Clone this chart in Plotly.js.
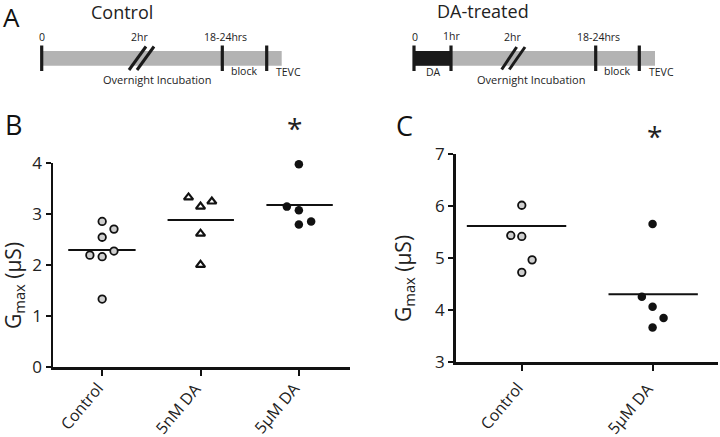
<!DOCTYPE html>
<html>
<head>
<meta charset="utf-8">
<script src="https://cdn.plot.ly/plotly-3.0.1.min.js"></script>
<style>html,body{margin:0;padding:0;background:#fff;}#chart{width:720px;height:437px;}</style>
</head>
<body>
<div id="chart"></div>
<script>
// ---------- Data ----------
const catsB = ["Control", "5nM DA", "5µM DA"];
const bControl = [2.85, 2.70, 2.54, 2.19, 2.16, 2.27, 1.33];
const bControlJit = [0, 0.12, 0, -0.125, 0, 0.12, 0];
const b5nM = [3.32, 3.14, 3.24, 2.61, 2.00];
const b5nMJit = [-0.122, 0, 0.115, 0, 0];
const b5uM = [3.97, 3.14, 3.07, 2.79, 2.85];
const b5uMJit = [0, -0.122, 0, 0, 0.125];
const bMeans = [2.29, 2.88, 3.17];

const catsC = ["Control", "5µM DA"];
const cControl = [6.02, 5.44, 5.42, 4.97, 4.73];
const cControlJit = [0, -0.084, 0, 0.079, 0];
const c5uM = [5.66, 4.26, 4.07, 3.85, 3.67];
const c5uMJit = [0, -0.082, 0, 0.084, 0];
const cMeans = [5.62, 4.31];

const sigB = "*", sigC = "*";
const yTitle = "G<sub>max</sub> (µS)";

// ---------- Helpers ----------
const W = 720, H = 437;
const ML = 45, MR = 2, MT = 100, MB = 62;
const FONT = "Open Sans, Noto Sans, sans-serif";
const px = v => (v - ML) / (W - ML - MR);
const py = v => 1 - (v - MT) / (H - MT - MB);
const add = (arr, jit, i) => arr.map((_, k) => i + jit[k]);

const grayMarker = {symbol: "circle", size: 7.5, color: "#cfcfcf", line: {color: "#111", width: 1.8}};
const blackMarker = {symbol: "circle", size: 8.5, color: "#111", line: {color: "#111", width: 0}};
const triMarker = {symbol: "triangle-up", size: 8, color: "#fff", line: {color: "#111", width: 2.2}};

const traces = [];
function pts(xax, yax, vals, jit, i, marker) {
  traces.push({type: "scatter", mode: "markers", x: add(vals, jit, i), y: vals,
    xaxis: xax, yaxis: yax, marker: marker, hoverinfo: "skip", showlegend: false, cliponaxis: false});
}
function meanLine(xax, yax, i, m, l, r) {
  traces.push({type: "scatter", mode: "lines", x: [i - l, i + r], y: [m, m],
    xaxis: xax, yaxis: yax, line: {color: "#111", width: 2}, hoverinfo: "skip", showlegend: false});
}
// Panel B
meanLine("x", "y", 0, bMeans[0], 0.345, 0.34);
meanLine("x", "y", 1, bMeans[1], 0.335, 0.34);
meanLine("x", "y", 2, bMeans[2], 0.33, 0.345);
pts("x", "y", bControl, bControlJit, 0, grayMarker);
pts("x", "y", b5nM, b5nMJit, 1, triMarker);
pts("x", "y", b5uM, b5uMJit, 2, blackMarker);
// Panel C
meanLine("x2", "y2", 0, cMeans[0], 0.42, 0.34);
meanLine("x2", "y2", 1, cMeans[1], 0.337, 0.346);
pts("x2", "y2", cControl, cControlJit, 0, grayMarker);
pts("x2", "y2", c5uM, c5uMJit, 1, blackMarker);

// ---------- Panel A schematic ----------
const shapes = [];
const annotations = [];
const GRAY = "#b3b3b3";
function rect(x0, x1, y0, y1, color) {
  shapes.push({type: "rect", xref: "paper", yref: "paper", x0: px(x0), x1: px(x1), y0: py(y0), y1: py(y1),
    fillcolor: color, line: {width: 0}, layer: "above"});
}
function seg(x0, y0, x1, y1, w) {
  shapes.push({type: "line", xref: "paper", yref: "paper", x0: px(x0), y0: py(y0), x1: px(x1), y1: py(y1),
    line: {color: "#1a1a1a", width: w}, layer: "above"});
}
function txt(text, x, y, size, extra) {
  annotations.push(Object.assign({text, x: px(x), y: py(y), xref: "paper", yref: "paper", showarrow: false,
    xanchor: "center", yanchor: "middle", borderpad: 0, font: {family: FONT, size, color: "#222"}}, extra || {}));
}
// Control timeline
rect(41.7, 281.7, 51, 65.7, GRAY);
[41.7, 222.3, 266.7].forEach(x => seg(x, 45.5, x, 71, 3.2));
seg(129, 70, 146, 46.5, 3); seg(137, 70, 154, 46.5, 3);
txt("Control", 121.7, 11.5, 18);
txt("0", 41.7, 37.5, 10.5); txt("2hr", 139, 37, 10.5); txt("18-24hrs", 225, 37, 10.5);
txt("block", 243.6, 71, 10.5); txt("TEVC", 288.5, 71.5, 10.5); txt("Overnight Incubation", 157, 79.5, 11);
// DA-treated timeline
rect(413.3, 655, 51, 65.7, GRAY);
rect(413.3, 451, 51, 65.7, "#1a1a1a");
[414, 451, 595.7, 639.3].forEach(x => seg(x, 45.5, x, 71, 3.2));
seg(501.7, 69.5, 516.7, 47, 3); seg(509.3, 69.5, 525, 47, 3);
txt("DA-treated", 483, 11, 18);
txt("0", 415, 37.5, 10.5); txt("1hr", 451.5, 36, 10.5); txt("2hr", 512.5, 37, 10.5); txt("18-24hrs", 598.5, 37, 10.5);
txt("DA", 433.5, 72, 10.5); txt("block", 617, 71, 10.5); txt("TEVC", 661.7, 71.5, 10.5); txt("Overnight Incubation", 530.8, 79.5, 11);

// Panel letters
txt("A", 11.5, 17.5, 26, {font: {family: FONT, size: 26, color: "#111"}});
txt("B", 13.5, 124, 27, {font: {family: FONT, size: 27, color: "#111"}});
txt("C", 404, 125, 27, {font: {family: FONT, size: 27, color: "#111"}});
// Y titles
txt(yTitle, 14, 285, 21, {textangle: -90});
txt(yTitle, 404, 279, 21, {textangle: -90});
// Significance stars
txt(sigB, 294, 128, 28);
txt(sigC, 654, 135.5, 28);

// Rotated category labels (anchored at each tick)
function catLabels(cats, xref) {
  cats.forEach((c, i) => annotations.push({text: c, x: i, xref: xref, y: py(376.5), yref: "paper",
    xanchor: "right", yanchor: "top", xshift: 7, textangle: -50, showarrow: false, borderpad: 0,
    font: {family: FONT, size: 16, color: "#222"}}));
}
catLabels(catsB, "x");
catLabels(catsC, "x2");

const axBase = {showgrid: false, zeroline: false, showline: true, linecolor: "#111", linewidth: 2.5,
  ticks: "outside", tickcolor: "#111", tickwidth: 2, tickfont: {family: FONT, size: 17, color: "#222"}, fixedrange: true};

const layout = {
  width: W, height: H, margin: {l: ML, r: MR, t: MT, b: MB}, paper_bgcolor: "#fff", plot_bgcolor: "rgba(0,0,0,0)",
  showlegend: false,
  xaxis: Object.assign({}, axBase, {domain: [px(53), px(350)], range: [-0.5, 2.52], anchor: "y",
    tickvals: [0, 1, 2], showticklabels: false, ticklen: 6}),
  yaxis: Object.assign({}, axBase, {domain: [py(367), py(162.7)], range: [0, 4], anchor: "x",
    tickvals: [0, 1, 2, 3, 4], ticklen: 5}),
  xaxis2: Object.assign({}, axBase, {domain: [px(455.7), px(718)], range: [-0.505, 1.5], anchor: "y2",
    tickvals: [0, 1], showticklabels: false, ticklen: 6}),
  yaxis2: Object.assign({}, axBase, {domain: [py(362.3), py(154.3)], range: [3, 7], anchor: "x2",
    tickvals: [3, 4, 5, 6, 7], ticklen: 5}),
  shapes, annotations
};

Plotly.newPlot("chart", traces, layout, {displayModeBar: false, staticPlot: true});
</script>
</body>
</html>
